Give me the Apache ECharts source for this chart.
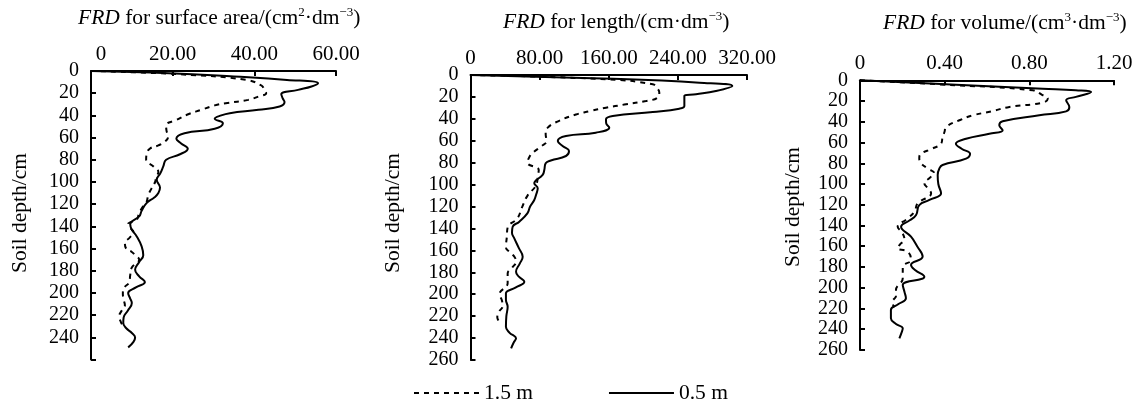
<!DOCTYPE html>
<html>
<head>
<meta charset="utf-8">
<script src="https://cdn.jsdelivr.net/npm/echarts@6/dist/echarts.min.js"></script>
<style>html,body{margin:0;padding:0;background:#fff}#c{width:1136px;height:405px}</style>
</head>
<body>
<div id="c"></div>
<script>
// ---- Panel 1: FRD for surface area (cm2/dm3) ----
var saDepth05 = [0,2,5,8,11,14,17,21,25,28,32,35,38,40,43,47,52,56,61,65,70,75,80,86,92,98,105,110,114,119,126,131,138,143,149,158,166,172,179,185,190,195,200,205,209,216,222,227,232,236,240,244,249];
var saVal05   = [0,19,35,48,55.6,54,50.7,46.6,47,47.4,46.2,41,34,31.9,30.3,32.3,30.3,22.9,20.9,22,23.7,21.8,18.4,17.7,17,16.1,16.9,16.5,15.5,13.6,12.4,11.8,9.6,10,11.2,12.4,12.8,11.8,10.8,11.8,13.2,11,9.1,9.6,10,9,8,7.9,8.7,10,10.8,10.4,9.1];
var saDepth15 = [0,3,8,13,17,20,23,26,29,31,35,39,44,49,54,59,64,67,70,75,80,86,91,96,100,106,112,118,124,129,134,138,141,145,150,155,160,163,166,170,177,184,190,196,201,206,211,216,221,226,230];
var saVal15   = [0,22,38,41.7,42.5,42.9,41,38.5,33,30.3,27,23.8,21,18.4,18.5,18.9,18,16.5,14.4,13.6,13.5,15.3,16.5,15.9,15.7,14.8,14,13.6,12.4,11.7,11.2,9.1,9.5,10.4,9.5,8.3,8.6,10,10.8,11.8,10,9.6,9.4,8,7.8,8,8.3,7.5,6.9,7.3,7.9];

// ---- Panel 2: FRD for length (cm/dm3) ----
var lenDepth05 = [0,3.5,7,10,14.6,17.6,19,24,28.3,30.7,33.8,37.4,40.4,44,48,52.6,55.7,60.2,65,69.3,73.9,78,80.6,86.7,91.2,98.8,103.4,109,114,120,126,133.8,138.4,144,149,158,165.8,172,179.5,184,188.6,194,199.2,205,211.4,220,229.7,235,240.2,244,249.4];
var lenVal05   = [0,165,265,303,284,261,247.5,247.5,247.5,241.7,211,164.6,156.8,157,160.6,145,110.5,101,107,114,110.5,93,87,85.4,83.5,73.8,77.8,76,73.8,69,66,56.5,48.8,48,50.7,56,60.4,57,52.7,56,62.3,52,41,41,43,41.5,41,45,52.7,50,47];
var lenDepth15 = [0,4,8.5,12,16,20.6,23.7,27,29.8,33,36,42,48,54,60,65,71,75,80,86.7,92,98,102,110,120,131,139,148,157,162,166,170,176,181,190,200,206,211,216,221,226];
var lenVal15   = [0,160,211,216,218.5,216.7,203,178,156.8,138,122,102,89.4,87,88,82,72,68,66,79,78,77,75,66,60,54,43,42,41,46,51,52.7,48,43,43,33.5,36.5,37,33,31,34];

// ---- Panel 3: FRD for volume (cm3/dm3) ----
var volDepth05 = [0,4.2,8.1,9.6,11.3,16,19.3,25.8,30,33.8,39.5,43.4,48.2,51.5,56.3,61.1,66,70.8,75.6,81.7,85,91.3,100,109,115.4,120.3,129.9,135,141.2,150.8,160,170,178.1,183,189.4,197.4,204,210.2,216,221.5,229.5,235,239.2,244,248.8];
var volVal05   = [0,0.454,0.863,1.02,1.092,1.02,0.974,0.989,0.974,0.847,0.674,0.658,0.674,0.611,0.501,0.453,0.48,0.52,0.501,0.39,0.375,0.367,0.37,0.383,0.328,0.28,0.265,0.235,0.194,0.241,0.27,0.296,0.241,0.26,0.304,0.202,0.21,0.217,0.18,0.146,0.146,0.17,0.202,0.195,0.186];
var volDepth15 = [0,4.2,9.6,14,17.7,21.6,25.7,30,33.8,38.3,45,49.9,55,61.1,66,70.8,75,80,85,89.7,94,99.3,104,109,118.6,126.7,134,141.2,147,154,158,162,165.3,173.3,179.7,190.9,202.2,208,213.5,219];
var volVal15   = [0,0.4,0.816,0.86,0.887,0.863,0.706,0.62,0.533,0.473,0.407,0.399,0.39,0.383,0.34,0.288,0.28,0.288,0.32,0.351,0.33,0.304,0.32,0.336,0.273,0.257,0.22,0.178,0.2,0.21,0.19,0.178,0.225,0.241,0.202,0.202,0.17,0.17,0.154,0.16];

var seriesNames = ['1.5 m', '0.5 m'];
var xMax = [60, 320, 1.2];
var xInterval = [20, 80, 0.4];
var yTickMax = 260, yTickInterval = 20;
var yName = 'Soil depth/cm';

var FONT = 'Liberation Serif';
var FS_T = 21.5;   // titles / names / legend
var FS_X = 21;     // x tick labels
var FS_Y = 20;     // y tick labels

function pairs(vals, depths) {
  return vals.map(function (v, i) { return [v, depths[i]]; });
}

var richTitle = {
  i: { fontFamily: FONT, fontSize: FS_T, fontStyle: 'italic', color: '#000', lineHeight: 24 },
  n: { fontFamily: FONT, fontSize: FS_T, color: '#000', lineHeight: 24 },
  sup: { fontFamily: FONT, fontSize: 13, color: '#000', verticalAlign: 'top', lineHeight: 24 }
};
var titles = [
  { text: '{i|FRD}{n| for surface area/(cm}{sup|2}{n|·dm}{sup|−3}{n|)}', left: 78, top: 6 },
  { text: '{i|FRD}{n| for length/(cm·dm}{sup|−3}{n|)}', left: 503, top: 10 },
  { text: '{i|FRD}{n| for volume/(cm}{sup|3}{n|·dm}{sup|−3}{n|)}', left: 883, top: 11 }
];

var grids = [
  { left: 91, top: 71, width: 245, height: 288.6 },
  { left: 470.5, top: 75, width: 276.5, height: 285 },
  { left: 860, top: 80.3, width: 254, height: 269.6 }
];

var axisLine = { show: true, onZero: false, lineStyle: { color: '#000', width: 2 } };
var axisTick = { show: true, inside: true, length: 5, lineStyle: { color: '#000', width: 2 } };

var xAxes = [], yAxes = [], series = [];
for (var g = 0; g < 3; g++) {
  (function (g) {
    xAxes.push({
      type: 'value', gridIndex: g, position: 'top', min: 0, max: xMax[g], interval: xInterval[g],
      axisLine: axisLine, axisTick: axisTick, splitLine: { show: false },
      axisLabel: {
        margin: 6, color: '#000', fontFamily: FONT, fontSize: FS_X,
        formatter: function (v) {
          if (v === 0) return g === 0 ? '{z|0}' : '0';
          return v.toFixed(2);
        },
        rich: { z: { fontFamily: FONT, fontSize: FS_X, color: '#000', padding: [0, 0, 0, 20] } }
      }
    });
    yAxes.push({
      type: 'value', gridIndex: g, inverse: true, min: 0, max: yTickMax, interval: yTickInterval,
      axisLine: axisLine, axisTick: axisTick, splitLine: { show: false },
      axisLabel: {
        margin: 12, color: '#000', fontFamily: FONT, fontSize: FS_Y,
        formatter: function (v) { return (g === 0 && v === 260) ? '' : String(v); }
      }
    });
  })(g);
}

var dataSets = [
  [pairs(saVal15, saDepth15), pairs(saVal05, saDepth05)],
  [pairs(lenVal15, lenDepth15), pairs(lenVal05, lenDepth05)],
  [pairs(volVal15, volDepth15), pairs(volVal05, volDepth05)]
];
for (var k = 0; k < 3; k++) {
  series.push({
    name: seriesNames[0], type: 'line', xAxisIndex: k, yAxisIndex: k, data: dataSets[k][0],
    symbol: 'none', smooth: 0.45, clip: false,
    lineStyle: { color: '#000', width: 2, type: [5, 5] }, itemStyle: { color: '#000' }
  });
  series.push({
    name: seriesNames[1], type: 'line', xAxisIndex: k, yAxisIndex: k, data: dataSets[k][1],
    symbol: 'none', smooth: 0.45, clip: false,
    lineStyle: { color: '#000', width: 2, type: 'solid' }, itemStyle: { color: '#000' }
  });
}

var yNamePos = [[20, 213], [393, 213], [793, 207]];
var graphics = yNamePos.map(function (p) {
  return {
    type: 'text', x: p[0], y: p[1], rotation: Math.PI / 2,
    style: { text: yName, fontFamily: FONT, fontSize: FS_T, fill: '#000', align: 'center', verticalAlign: 'middle' }
  };
});

var chart = echarts.init(document.getElementById('c'), null, { renderer: 'canvas' });
chart.setOption({
  animation: false,
  backgroundColor: '#fff',
  title: titles.map(function (t) {
    return { text: t.text, left: t.left, top: t.top, padding: 0,
      textStyle: { fontFamily: FONT, fontSize: FS_T, fontWeight: 'normal', color: '#000', rich: richTitle } };
  }),
  legend: {
    data: seriesNames, left: 413, top: 382, itemWidth: 65, itemHeight: 10, itemGap: 75, padding: 0,
    itemStyle: { opacity: 0 },
    textStyle: { fontFamily: FONT, fontSize: FS_T, color: '#000' }
  },
  grid: grids,
  xAxis: xAxes,
  yAxis: yAxes,
  series: series,
  graphic: graphics
});
</script>
</body>
</html>
